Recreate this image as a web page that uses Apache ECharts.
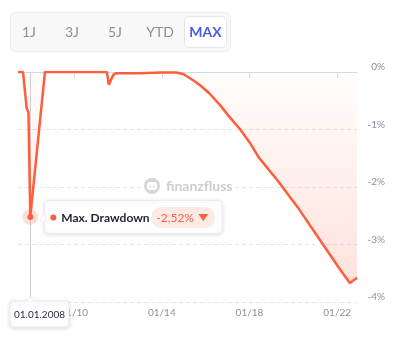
<!DOCTYPE html>
<html>
<head>
<meta charset="utf-8">
<script src="https://cdn.jsdelivr.net/npm/echarts@6/dist/echarts.min.js"></script>
<style>
html,body{margin:0;padding:0;background:#fff;}
#c{width:400px;height:342px;}
</style>
</head>
<body>
<div id="c"></div>
<script>
// ---- data ----
var dates = ['2007-06-10','2007-09-01','2007-11-01','2007-12-01','2008-01-01','2008-09-01',
  '2011-07-01','2011-08-01','2011-10-15','2011-12-01','2013-01-01','2014-01-01','2014-09-01',
  '2015-01-01','2015-04-01','2015-07-01','2015-10-01','2016-03-01','2016-09-01','2017-02-01',
  '2017-08-01','2018-01-01','2018-06-01','2019-05-01','2019-08-01','2020-04-01','2021-03-01',
  '2022-02-01','2022-08-01','2022-11-28'];
var drawdown = [0,0,-0.63,-0.70,-2.52,0,
  0,-0.22,-0.05,-0.02,-0.02,-0.01,-0.01,
  -0.04,-0.10,-0.16,-0.23,-0.37,-0.58,-0.78,
  -1.00,-1.22,-1.48,-1.91,-2.04,-2.38,-2.89,
  -3.41,-3.67,-3.58];
var hoverDate = '2008-01-01';
var xTickDates = ['2010-01-01','2014-01-01','2018-01-01','2022-01-01'];
var yTicks = [0,-1,-2,-3,-4];
var rangeButtons = ['1J','3J','5J','YTD','MAX'];
var tooltipLabel = 'Max. Drawdown';
var brand = 'finanzfluss';

var FONT = 'Lato, "Open Sans", sans-serif';
var LINE = '#ff5d3b';
function ts(s){ return new Date(s + 'T00:00:00Z').getTime(); }
var seriesData = dates.map(function(d,i){ return [ts(d), drawdown[i]]; });

var chart = echarts.init(document.getElementById('c'), null, {renderer:'canvas'});
chart.setOption({
  animation:false,
  textStyle:{fontFamily:FONT},
  grid:{left:18,right:43,top:72,bottom:40},
  xAxis:{
    type:'value',
    min:ts(dates[0]), max:ts(dates[dates.length-1]),
    axisLine:{lineStyle:{color:'#d3daea',width:1}},
    axisTick:{show:true,length:6,lineStyle:{color:'#d3daea'},customValues:xTickDates.map(ts)},
    axisLabel:{color:'#8a90a0',fontSize:10,fontFamily:FONT,margin:6,
      customValues:xTickDates.map(ts),
      formatter:function(v){var d=new Date(v);var m=d.getUTCMonth()+1;return (m<10?'0':'')+m+'/'+String(d.getUTCFullYear()).slice(2);}},
    splitLine:{show:false}
  },
  yAxis:{
    type:'value', position:'right', min:yTicks[yTicks.length-1], max:yTicks[0], interval:1,
    axisLine:{show:false}, axisTick:{show:false},
    axisLabel:{color:'#8a90a0',fontSize:10,fontFamily:FONT,align:'right',margin:28,verticalAlign:'bottom',
      formatter:function(v){return v+'%';}},
    splitLine:{lineStyle:{color:'#e4e4e8',type:[4,3],width:1}}
  },
  series:[{
    type:'line', data:seriesData, showSymbol:false, smooth:false,
    lineStyle:{color:LINE,width:2.5},
    areaStyle:{color:new echarts.graphic.LinearGradient(0,0,0,1,[
      {offset:0,color:'rgba(255,110,80,0.02)'},{offset:1,color:'rgba(255,110,80,0.28)'}])},
    z:3
  }]
});

// hovered point
var mi = dates.indexOf(hoverDate);
var p = chart.convertToPixel({seriesIndex:0}, seriesData[mi]);
var gridTop = chart.convertToPixel({seriesIndex:0}, [seriesData[0][0], 0]);
var gridBottom = chart.convertToPixel({seriesIndex:0}, [seriesData[0][0], yTicks[yTicks.length-1]]);
var md = new Date(ts(dates[mi]));
function pad(n){return (n<10?'0':'')+n;}
var dateText = pad(md.getUTCDate())+'.'+pad(md.getUTCMonth()+1)+'.'+md.getUTCFullYear();
var valText = drawdown[mi].toFixed(2).replace('.',',')+'%';

var g = [];
// range buttons
g.push({type:'rect',shape:{x:10.5,y:12.5,width:220,height:39,r:5},style:{fill:'#f8f8f9',stroke:'#ededf0',lineWidth:1},z:10});
g.push({type:'rect',shape:{x:184.5,y:16.5,width:42,height:31,r:5},style:{fill:'#fff',stroke:'#e4e5ea',lineWidth:1},z:11});
var bx = [29,72,115,160,205.5];
rangeButtons.forEach(function(t,i){
  var last = i===rangeButtons.length-1;
  g.push({type:'text',x:bx[i],y:32,z:12,style:{text:t,fill:last?'#4a5fdc':'#8a8fa0',font:(last?'bold ':'')+'14px '+FONT,align:'center',verticalAlign:'middle'}});
});
// watermark
g.push({type:'rect',shape:{x:141,y:177,width:94,height:19},style:{fill:'#fff'},z:4});
g.push({type:'circle',shape:{cx:152,cy:186,r:8},style:{fill:'#d6d6d6'},z:5});
g.push({type:'rect',shape:{x:147,y:182,width:10,height:8,r:3},style:{fill:'#fff'},z:6});
g.push({type:'circle',shape:{cx:150,cy:186.5,r:1},style:{fill:'#d6d6d6'},z:7});
g.push({type:'circle',shape:{cx:154,cy:186.5,r:1},style:{fill:'#d6d6d6'},z:7});
g.push({type:'text',x:166,y:186,z:5,style:{text:brand,fill:'#cdcdcd',font:'bold 14px '+FONT,verticalAlign:'middle'}});
// crosshair
var cx = Math.round(p[0])+0.5;
g.push({type:'line',shape:{x1:cx,y1:gridTop[1],x2:cx,y2:gridBottom[1]-4},style:{stroke:'#cfcfd3',lineWidth:1},z:2});
// point marker
g.push({type:'circle',shape:{cx:p[0],cy:p[1],r:8},style:{fill:'rgba(255,110,80,0.22)'},z:20});
g.push({type:'circle',shape:{cx:p[0],cy:p[1],r:3},style:{fill:LINE},z:21});
// tooltip box
var tx = p[0]+14, ty = p[1]-16.5;
g.push({type:'rect',shape:{x:tx,y:ty,width:178,height:33,r:4},style:{fill:'#fff',stroke:'#ececef',lineWidth:1,shadowBlur:5,shadowColor:'rgba(0,0,0,0.12)',shadowOffsetY:1},z:30});
g.push({type:'polygon',shape:{points:[[tx+1,p[1]-4],[tx-5,p[1]+3],[tx+1,p[1]+5]]},style:{fill:'#fff',stroke:'#e0e0e4',lineWidth:0.5},z:30});
g.push({type:'circle',shape:{cx:tx+9,cy:p[1]+0.5,r:3},style:{fill:LINE},z:31});
g.push({type:'text',x:tx+17,y:p[1]+1,z:31,style:{text:tooltipLabel,fill:'#1d2236',font:'bold 12px '+FONT,verticalAlign:'middle'}});
g.push({type:'rect',shape:{x:tx+107,y:p[1]-10,width:64,height:21,r:10},style:{fill:'#fdeae5'},z:31});
g.push({type:'text',x:tx+112,y:p[1]+1,z:32,style:{text:valText,fill:'#ff6140',font:'12px '+FONT,verticalAlign:'middle'}});
g.push({type:'polygon',shape:{points:[[tx+154,p[1]-3],[tx+164,p[1]-3],[tx+159,p[1]+4]]},style:{fill:'#ff6140'},z:32});
// date label
var dbx = Math.max(10, p[0]-29.5), dby = gridBottom[1]-1;
g.push({type:'rect',shape:{x:dbx,y:dby,width:59,height:26,r:3},style:{fill:'#fff',stroke:'#ececef',lineWidth:1,shadowBlur:5,shadowColor:'rgba(0,0,0,0.14)',shadowOffsetY:1},z:30});
g.push({type:'polygon',shape:{points:[[p[0]-4,dby+0.5],[p[0],dby-4],[p[0]+4,dby+0.5]]},style:{fill:'#fff',stroke:'#e0e0e4',lineWidth:0.5},z:30});
g.push({type:'rect',shape:{x:p[0]-4,y:dby+0.5,width:8,height:2},style:{fill:'#fff'},z:31});
g.push({type:'text',x:dbx+29.5,y:dby+13.5,z:31,style:{text:dateText,fill:'#2a3045',font:'10px '+FONT,align:'center',verticalAlign:'middle'}});

chart.setOption({graphic:{elements:g}});
</script>
</body>
</html>
